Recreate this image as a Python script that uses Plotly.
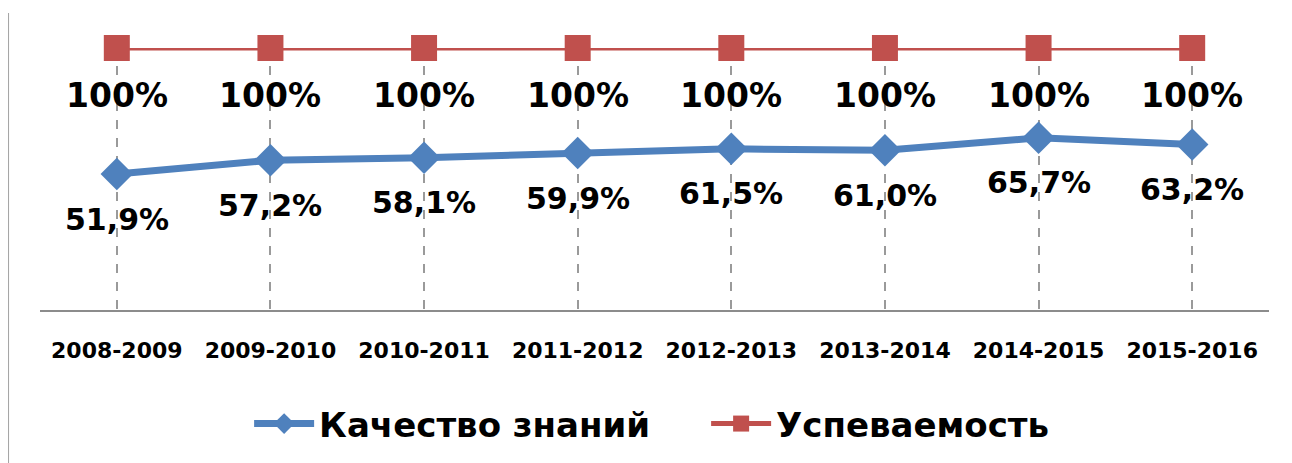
import plotly.graph_objects as go

categories = ["2008-2009", "2009-2010", "2010-2011", "2011-2012",
              "2012-2013", "2013-2014", "2014-2015", "2015-2016"]
quality = [51.9, 57.2, 58.1, 59.9, 61.5, 61.0, 65.7, 63.2]
success = [100, 100, 100, 100, 100, 100, 100, 100]
quality_labels = ["51,9%", "57,2%", "58,1%", "59,9%", "61,5%", "61,0%", "65,7%", "63,2%"]
success_labels = ["100%"] * 8

BLUE = "#4F81BD"
RED = "#C0504D"
FONT = "DejaVu Sans"

fig = go.Figure()
fig.add_trace(go.Scatter(
    x=categories, y=quality, name="Качество знаний", mode="lines+markers",
    line=dict(color=BLUE, width=7),
    marker=dict(symbol="diamond", size=25, color=BLUE),
    cliponaxis=False,
))
fig.add_trace(go.Scatter(
    x=categories, y=success, name="Успеваемость", mode="lines+markers",
    line=dict(color=RED, width=5),
    marker=dict(symbol="square", size=26, color=RED),
    cliponaxis=False,
))

annotations = []
for c, v, t in zip(categories, success, success_labels):
    annotations.append(dict(x=c, y=v, text=t, showarrow=False, yshift=-47,
                            font=dict(family=FONT, size=33, color="black", weight="bold")))
for c, v, t in zip(categories, quality, quality_labels):
    annotations.append(dict(x=c, y=v, text=t, showarrow=False, yshift=-45,
                            font=dict(family=FONT, size=30, color="black", weight="bold")))

fig.update_layout(
    width=1292, height=463,
    margin=dict(l=32, r=31, t=40, b=161),
    paper_bgcolor="white", plot_bgcolor="white",
    showlegend=True,
    legend=dict(orientation="h", x=0.542, xanchor="center", y=-0.435, yanchor="middle",
                font=dict(family=FONT, size=34, color="black", weight="bold"),
                itemwidth=60, traceorder="normal", entrywidth=382),
    annotations=annotations,
    shapes=[dict(type="line", xref="paper", yref="paper",
                 x0=-0.026, x1=-0.026, y0=1.134, y1=-0.65,
                 line=dict(color="#A6A6A6", width=2))],
)
fig.update_xaxes(
    type="category", range=[-0.5, 7.5],
    showgrid=True, gridcolor="#9A9A9A", griddash="dash", gridwidth=1.5,
    showline=True, linecolor="#8C8C8C", linewidth=1.5,
    ticks="", ticklabelstandoff=20,
    tickfont=dict(family=FONT, size=22, color="black", weight="bold"),
)
fig.update_yaxes(range=[0, 100], showgrid=False, showticklabels=False,
                 zeroline=False, showline=False)

fig.write_html("out.html")
